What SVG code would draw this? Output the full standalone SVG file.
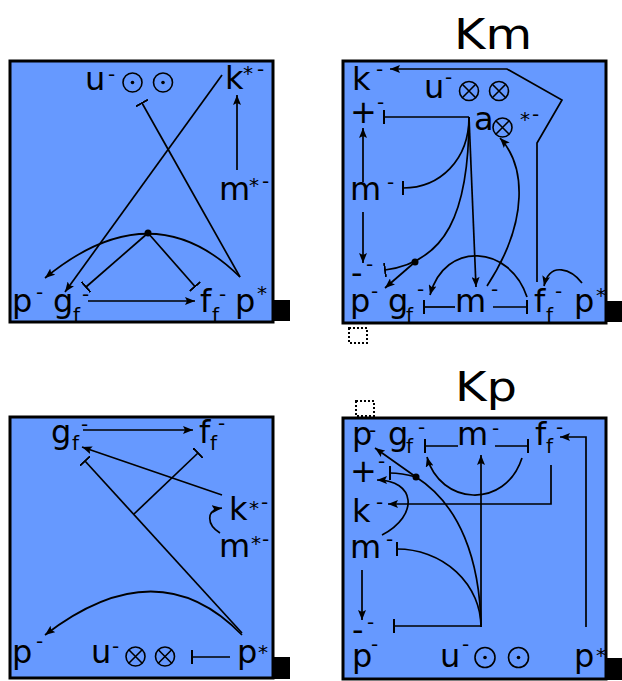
<svg xmlns="http://www.w3.org/2000/svg" width="622" height="681" viewBox="0 0 622 681">
<defs>
<marker id="ah" viewBox="0 0 10 8" refX="10" refY="4" markerWidth="10" markerHeight="8" markerUnits="userSpaceOnUse" orient="auto"><path d="M0,0 L10,4 L0,8 L2,4 z" fill="#000"/></marker>
<marker id="tee" viewBox="0 0 2 14" refX="1" refY="7" markerWidth="2" markerHeight="14" markerUnits="userSpaceOnUse" orient="auto"><path d="M1,0 V14" stroke="#000" stroke-width="2"/></marker>
</defs>
<style>
.box{fill:#6699ff;stroke:#000;stroke-width:3}
.blk{fill:#000}
.dot{fill:none;stroke:#000;stroke-width:2;stroke-dasharray:2 2}
.ln{fill:none;stroke:#000;stroke-width:1.7}
.a{marker-end:url(#ah)}
.t{marker-end:url(#tee)}
.c{fill:none;stroke:#000;stroke-width:1.6}
.jd{fill:#000}
text{font-family:"DejaVu Sans","Liberation Sans",sans-serif;fill:#000}
.L{font-size:32px}
.s{font-size:20px}
</style>

<!-- titles -->
<text x="454" y="49" font-size="42" textLength="78" lengthAdjust="spacingAndGlyphs">Km</text>
<text x="455" y="401" font-size="40" textLength="62" lengthAdjust="spacingAndGlyphs">Kp</text>

<!-- boxes -->
<rect class="box" x="10" y="61" width="263" height="261"/>
<rect class="blk" x="274" y="300" width="16" height="21"/>
<rect class="box" x="343" y="61" width="263" height="262"/>
<rect class="blk" x="607" y="301" width="15" height="21"/>
<rect class="dot" x="349" y="328" width="18" height="15"/>
<rect class="box" x="10" y="417" width="263" height="261"/>
<rect class="blk" x="274" y="657" width="16" height="22"/>
<rect class="box" x="343" y="418" width="263" height="261"/>
<rect class="blk" x="607" y="658" width="15" height="22"/>
<rect class="dot" x="356" y="401" width="18" height="15"/>

<!-- ================= Panel 1 ================= -->
<g id="p1-connectors">
<line class="ln a" x1="237" y1="170" x2="237" y2="95"/>
<line class="ln a" x1="222" y1="75" x2="65" y2="292"/>
<line class="ln t" x1="240" y1="277" x2="142" y2="103"/>
<path class="ln a" d="M240,277 Q152,190 45,278"/>
<line class="ln t" x1="148" y1="233" x2="86" y2="287"/>
<line class="ln t" x1="148" y1="233" x2="195" y2="286.5"/>
<line class="ln a" x1="88" y1="301" x2="195" y2="301"/>
<circle class="jd" cx="148" cy="233" r="3.5"/>
</g>
<g id="p1-u"><text class="L" x="85" y="90">u</text><text class="s" x="108" y="81">-</text>
<circle class="c" cx="132.5" cy="82.5" r="9.5"/><circle class="jd" cx="132.5" cy="82.5" r="1.8"/>
<circle class="c" cx="163" cy="82.5" r="9.5"/><circle class="jd" cx="163" cy="82.5" r="1.8"/></g>
<g id="p1-k"><text class="L" x="225" y="89">k</text><text class="s" x="243" y="80">*</text><text class="s" x="257" y="76">-</text></g>
<g id="p1-m"><text class="L" x="219" y="200">m</text><text class="s" x="249" y="192">*</text><text class="s" x="262" y="188">-</text></g>
<g id="p1-p-"><text class="L" x="12" y="312">p</text><text class="s" x="36" y="299">-</text></g>
<g id="p1-gf"><text class="L" x="53" y="312">g</text><text class="s" x="73" y="322">f</text><text class="s" x="82" y="301">-</text></g>
<g id="p1-ff"><text class="L" x="200" y="312">f</text><text class="s" x="212" y="322">f</text><text class="s" x="219" y="301">-</text></g>
<g id="p1-ps"><text class="L" x="235" y="312">p</text><text class="s" x="257" y="300">*</text></g>

<!-- ================= Panel 2 (Km) ================= -->
<g id="p2-connectors">
<path class="ln a" d="M537,282 L537,143 L562,100 L507,69 L390,69"/>
<line class="ln t" x1="469" y1="117" x2="384" y2="117"/>
<path class="ln t" d="M469,117 C469,160 440,188 403,188"/>
<path class="ln t" d="M469,117 C469,215 445,262 385,270"/>
<line class="ln a" x1="415" y1="262" x2="385" y2="288"/>
<line class="ln a" x1="469" y1="117" x2="476" y2="287"/>
<path class="ln a" d="M487,286 C530,220 525,165 500,138"/>
<line class="ln a" x1="363" y1="182" x2="363" y2="128"/>
<line class="ln a" x1="363" y1="212" x2="363" y2="263"/>
<line class="ln t" x1="455" y1="307" x2="424" y2="307"/>
<line class="ln t" x1="493" y1="307" x2="527" y2="307"/>
<path class="ln a" d="M527,297 C510,245 445,240 430,295"/>
<path class="ln a" d="M582,283 C572,270 550,260 544,286"/>
<circle class="jd" cx="415" cy="262" r="3.5"/>
</g>
<g id="p2-k"><text class="L" x="352" y="90">k</text><text class="s" x="376" y="76">-</text></g>
<g id="p2-u"><text class="L" x="424" y="98">u</text><text class="s" x="445" y="84">-</text>
<circle class="c" cx="469" cy="91" r="9.5"/><path class="c" d="M462.3,84.3 L475.7,97.7 M475.7,84.3 L462.3,97.7"/>
<circle class="c" cx="499" cy="91" r="9.5"/><path class="c" d="M492.3,84.3 L505.7,97.7 M505.7,84.3 L492.3,97.7"/></g>
<g id="p2-plus"><text class="L" x="350" y="123">+</text><text class="s" x="377" y="109">-</text></g>
<g id="p2-a"><text class="L" x="474" y="130">a</text>
<circle class="c" cx="502.5" cy="127.5" r="9.5"/><path class="c" d="M495.8,120.8 L509.2,134.2 M509.2,120.8 L495.8,134.2"/>
<text class="s" x="520" y="126">*</text><text class="s" x="532" y="121">-</text></g>
<g id="p2-m"><text class="L" x="350" y="200">m</text><text class="s" x="387" y="189">-</text></g>
<g id="p2-minus"><text class="L" x="351" y="284">-</text><text class="s" x="366" y="271">-</text></g>
<g id="p2-p-"><text class="L" x="350" y="312">p</text><text class="s" x="371" y="298">-</text></g>
<g id="p2-gf"><text class="L" x="388" y="312">g</text><text class="s" x="406" y="322">f</text><text class="s" x="417" y="296">-</text></g>
<g id="p2-mb"><text class="L" x="455" y="312">m</text><text class="s" x="491" y="296">-</text></g>
<g id="p2-ff"><text class="L" x="534" y="312">f</text><text class="s" x="546" y="322">f</text><text class="s" x="555" y="298">-</text></g>
<g id="p2-ps"><text class="L" x="574" y="312">p</text><text class="s" x="596" y="302">*</text></g>

<!-- ================= Panel 3 ================= -->
<g id="p3-connectors">
<line class="ln a" x1="83" y1="430" x2="193" y2="430"/>
<line class="ln a" x1="222" y1="495" x2="82" y2="447"/>
<line class="ln t" x1="242" y1="633" x2="85" y2="461"/>
<line class="ln t" x1="134" y1="514" x2="198" y2="453"/>
<path class="ln a" d="M220,533 C207,525 205,510 222,508"/>
<path class="ln a" d="M242,635 Q158,548 45,635"/>
<line class="ln t" x1="230" y1="657" x2="192" y2="657"/>
</g>
<g id="p3-gf"><text class="L" x="51" y="443">g</text><text class="s" x="72" y="450">f</text><text class="s" x="81" y="431">-</text></g>
<g id="p3-ff"><text class="L" x="199" y="443">f</text><text class="s" x="210" y="450">f</text><text class="s" x="218" y="430">-</text></g>
<g id="p3-k"><text class="L" x="229" y="520">k</text><text class="s" x="249" y="515">*</text><text class="s" x="261" y="509">-</text></g>
<g id="p3-m"><text class="L" x="219" y="557">m</text><text class="s" x="251" y="550">*</text><text class="s" x="262" y="546">-</text></g>
<g id="p3-p-"><text class="L" x="12" y="663">p</text><text class="s" x="36" y="648">-</text></g>
<g id="p3-u"><text class="L" x="91" y="663">u</text><text class="s" x="112" y="653">-</text>
<circle class="c" cx="135.5" cy="656.5" r="9.5"/><path class="c" d="M128.8,649.8 L142.2,663.2 M142.2,649.8 L128.8,663.2"/>
<circle class="c" cx="165" cy="656.5" r="9.5"/><path class="c" d="M158.3,649.8 L171.7,663.2 M171.7,649.8 L158.3,663.2"/></g>
<g id="p3-ps"><text class="L" x="237" y="663">p</text><text class="s" x="258" y="659">*</text></g>

<!-- ================= Panel 4 (Kp) ================= -->
<g id="p4-connectors">
<line class="ln t" x1="458" y1="446" x2="425" y2="446"/>
<line class="ln t" x1="495" y1="446" x2="528" y2="446"/>
<path class="ln a" d="M586,627 L586,437 L560,437"/>
<path class="ln a" d="M551,465 L551,504 L388,504"/>
<path class="ln a" d="M522,458 C505,510 440,505 427,457"/>
<line class="ln a" x1="481" y1="627" x2="481" y2="455"/>
<path class="ln a" d="M481,627 C480,560 460,505 416,477 L375,448"/>
<path class="ln t" d="M416,477 C405,474 398,473 390,473"/>
<path class="ln a" d="M382,535 C420,515 415,480 377,480"/>
<path class="ln t" d="M481,627 A84,78 0 0 0 397,549"/>
<line class="ln a" x1="362" y1="570" x2="362" y2="620"/>
<line class="ln t" x1="481" y1="626" x2="394" y2="626"/>
<circle class="jd" cx="416" cy="477" r="3.5"/>
</g>
<g id="p4-p-"><text class="L" x="352" y="445">p</text><text class="s" x="369" y="437">-</text></g>
<g id="p4-gf"><text class="L" x="388" y="445">g</text><text class="s" x="406" y="453">f</text><text class="s" x="418" y="434">-</text></g>
<g id="p4-m"><text class="L" x="457" y="445">m</text><text class="s" x="492" y="435">-</text></g>
<g id="p4-ff"><text class="L" x="535" y="445">f</text><text class="s" x="546" y="453">f</text><text class="s" x="556" y="434">-</text></g>
<g id="p4-plus"><text class="L" x="350" y="482">+</text><text class="s" x="378" y="468">-</text></g>
<g id="p4-k"><text class="L" x="352" y="522">k</text><text class="s" x="376" y="509">-</text></g>
<g id="p4-ml"><text class="L" x="350" y="558">m</text><text class="s" x="386" y="546">-</text></g>
<g id="p4-minus"><text class="L" x="352" y="641">-</text><text class="s" x="367" y="629">-</text></g>
<g id="p4-pb"><text class="L" x="352" y="667">p</text><text class="s" x="371" y="651">-</text></g>
<g id="p4-u"><text class="L" x="440" y="667">u</text><text class="s" x="462" y="651">-</text>
<circle class="c" cx="485" cy="657.5" r="10"/><circle class="jd" cx="485" cy="657.5" r="1.8"/>
<circle class="c" cx="518.5" cy="657.5" r="10"/><circle class="jd" cx="518.5" cy="657.5" r="1.8"/></g>
<g id="p4-ps"><text class="L" x="574" y="667">p</text><text class="s" x="596" y="662">*</text></g>
</svg>
